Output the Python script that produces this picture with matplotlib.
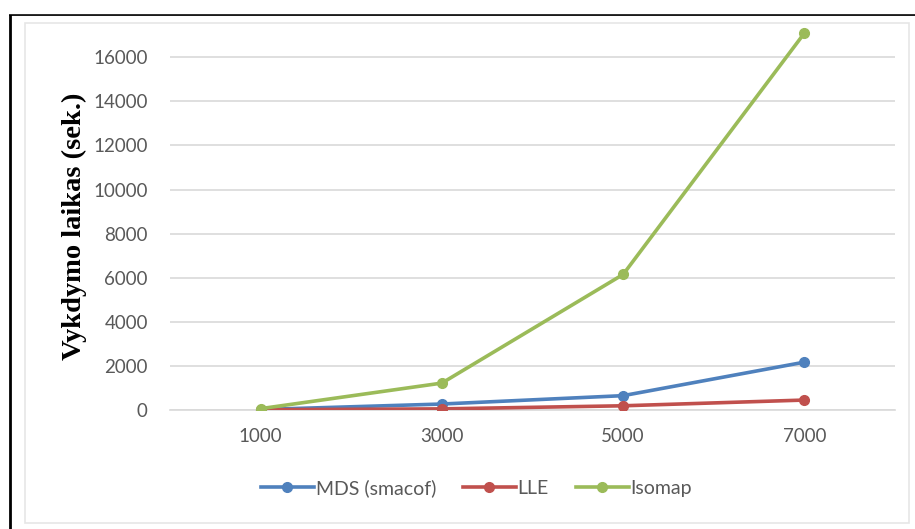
import matplotlib.pyplot as plt
from matplotlib.lines import Line2D
from matplotlib.patches import Rectangle

# Sample sizes and run times (seconds)
sizes = ['1000', '3000', '5000', '7000']
mds_times = [20, 270, 650, 2170]
lle_times = [10, 50, 190, 450]
isomap_times = [60, 1220, 6150, 17100]

series = [
    ('MDS (smacof)', mds_times, '#4F81BD'),
    ('LLE', lle_times, '#C0504D'),
    ('Isomap', isomap_times, '#9BBB59'),
]

fig = plt.figure(figsize=(9.15, 5.29), dpi=100)
ax = fig.add_axes([0.1858, 0.225, 0.7924, 0.75])

x = range(len(sizes))
for name, vals, col in series:
    ax.plot(x, vals, color=col, lw=2.6, marker='o', ms=7, label=name,
            solid_capstyle='round', zorder=3)

ax.set_xlim(-0.5, len(sizes) - 0.5)
ax.set_ylim(0, 18000)
ax.set_yticks(range(0, 16001, 2000))
ax.set_xticks(list(x))
ax.set_xticklabels(sizes)
ax.yaxis.grid(True, color='#D9D9D9', lw=1.2)
ax.set_axisbelow(True)
for side in ['top', 'right', 'left']:
    ax.spines[side].set_visible(False)
ax.spines['bottom'].set_color('#D9D9D9')
ax.spines['bottom'].set_linewidth(1.2)
ax.tick_params(length=0, labelsize=13.5, colors='#595959', pad=13)
ax.tick_params(axis='y', pad=16)
for lbl in ax.get_xticklabels() + ax.get_yticklabels():
    lbl.set_family('Lato')

fig.text(0.081, 0.573, 'Vykdymo laikas (sek.)', rotation=90, ha='center',
         va='center', family='Liberation Serif', weight='bold', fontsize=20.5)

handles = [Line2D([], [], color=c, lw=2.6, marker='o', ms=7) for _, _, c in series]
leg = fig.legend(handles, [s[0] for s in series], loc='center',
                 bbox_to_anchor=(0.521, 0.077), ncol=3, frameon=False,
                 prop={'family': 'Lato', 'size': 14}, handlelength=2.7,
                 handletextpad=0.1, columnspacing=1.4)
for t in leg.get_texts():
    t.set_color('#595959')

# chart area border and page frame
fig.add_artist(Rectangle((25 / 915, 6 / 529), 884 / 915, 500 / 529,
                         transform=fig.transFigure, fill=False,
                         ec='#E6E6E6', lw=1.2))
fig.add_artist(Line2D([10 / 915, 1], [1 - 14 / 529] * 2,
                      transform=fig.transFigure, color='black', lw=2))
fig.add_artist(Line2D([10 / 915] * 2, [0, 1 - 14 / 529],
                      transform=fig.transFigure, color='black', lw=2))
fig.add_artist(Rectangle((0, 1 - 13 / 529), 1, 13 / 529,
                         transform=fig.transFigure, color='white', zorder=5))

fig.savefig('out.png', dpi=100, facecolor='white')
